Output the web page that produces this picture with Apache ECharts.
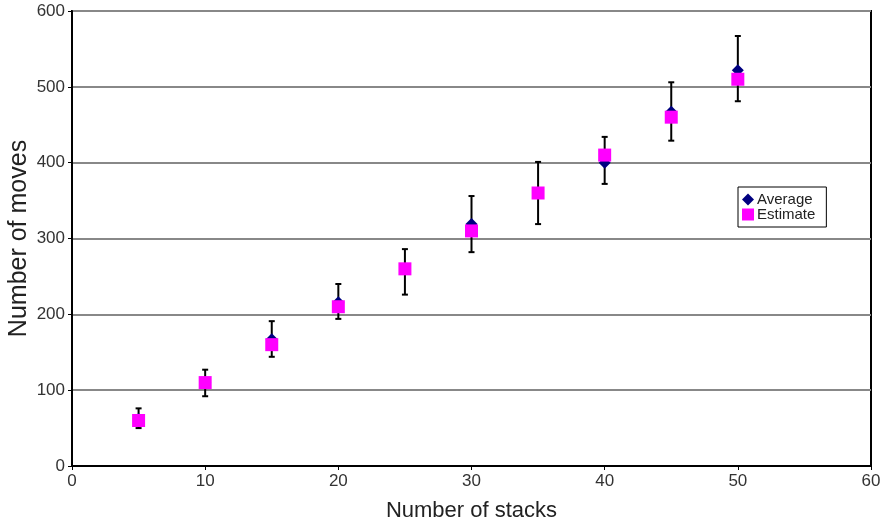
<!DOCTYPE html>
<html lang="en" style="height: 100%">
<head>
  <meta charset="utf-8">
</head>
<body style="height: 100%; margin: 0; background: #fff">
  <div id="container" style="width: 882px; height: 526px"></div>
  <script type="text/javascript" src="https://cdn.jsdelivr.net/npm/echarts@6/dist/echarts.min.js"></script>
  <script type="text/javascript">
    // values
    var stacks = [5, 10, 15, 20, 25, 30, 35, 40, 45, 50];
    var average = [62, 110, 167, 216, 260, 319, 360, 400, 467, 522];
    var estimate = [60, 110, 160, 210, 260, 310, 360, 410, 460, 510];
    var errLow = [50, 92, 144, 194, 226, 282, 319, 372, 429, 481];
    var errHigh = [76, 127, 191, 240, 286, 356, 401, 434, 506, 567];

    var dom = document.getElementById('container');
    var myChart = echarts.init(dom, null, { renderer: 'canvas' });

    var font = 'Liberation Sans';
    var avgData = stacks.map(function (s, i) { return [s, average[i]]; });
    var estData = stacks.map(function (s, i) { return [s, estimate[i]]; });
    var errData = stacks.map(function (s, i) { return [s, errLow[i], errHigh[i]]; });

    var option = {
      animation: false,
      backgroundColor: '#fff',
      textStyle: { fontFamily: font },
      grid: {
        left: 72, right: 11, top: 11, bottom: 60,
        outerBoundsMode: 'none',
        containLabel: false,
        show: true, borderColor: '#000', borderWidth: 2
      },
      legend: {
        orient: 'vertical',
        left: 738, top: 187,
        padding: [5, 11, 5, 4],
        itemGap: 0,
        itemWidth: 12, itemHeight: 12,
        borderColor: '#000', borderWidth: 1,
        backgroundColor: '#fff',
        textStyle: { fontFamily: font, fontSize: 15, color: '#222', padding: [0, 0, 0, -2] },
        data: [
          { name: 'Average', icon: 'diamond' },
          { name: 'Estimate', icon: 'rect' }
        ]
      },
      xAxis: {
        type: 'value', min: 0, max: 60, interval: 10,
        name: 'Number of stacks', nameLocation: 'middle', nameGap: 34,
        nameMoveOverlap: false,
        nameTextStyle: { fontFamily: font, fontSize: 22, color: '#222' },
        axisLine: { lineStyle: { color: '#000', width: 2 } },
        axisTick: { show: true, length: 4, lineStyle: { color: '#000' } },
        axisLabel: { fontFamily: font, fontSize: 17, color: '#333', margin: 7 },
        splitLine: { show: false }
      },
      yAxis: {
        type: 'value', min: 0, max: 600, interval: 100,
        name: 'Number of moves', nameLocation: 'middle', nameGap: 40, nameRotate: 90,
        nameMoveOverlap: false,
        nameTextStyle: { fontFamily: font, fontSize: 25, color: '#222' },
        axisLine: { show: true, lineStyle: { color: '#000', width: 2 } },
        axisTick: { show: true, length: 4, lineStyle: { color: '#000' } },
        axisLabel: { fontFamily: font, fontSize: 17, color: '#333', margin: 7 },
        splitLine: { show: true, lineStyle: { color: '#888', width: 2 } }
      },
      series: [
        {
          name: 'Error',
          type: 'custom',
          z: 2,
          data: errData,
          encode: { x: 0, y: [1, 2] },
          renderItem: function (params, api) {
            var x = api.value(0);
            var lo = api.coord([x, api.value(1)]);
            var hi = api.coord([x, api.value(2)]);
            var w = 3;
            var style = { stroke: '#000', lineWidth: 2 };
            return {
              type: 'group',
              children: [
                { type: 'line', shape: { x1: lo[0], y1: lo[1], x2: hi[0], y2: hi[1] }, style: style },
                { type: 'line', shape: { x1: hi[0] - w, y1: hi[1], x2: hi[0] + w, y2: hi[1] }, style: style },
                { type: 'line', shape: { x1: lo[0] - w, y1: lo[1], x2: lo[0] + w, y2: lo[1] }, style: style }
              ]
            };
          }
        },
        {
          name: 'Average',
          type: 'scatter',
          z: 3,
          symbol: 'diamond',
          symbolSize: 12,
          itemStyle: { color: '#000080', opacity: 1 },
          data: avgData
        },
        {
          name: 'Estimate',
          type: 'scatter',
          z: 4,
          symbol: 'rect',
          symbolSize: 13,
          itemStyle: { color: '#ff00ff', opacity: 1 },
          data: estData
        }
      ]
    };

    myChart.setOption(option);
    window.addEventListener('resize', myChart.resize);
  </script>
</body>
</html>
